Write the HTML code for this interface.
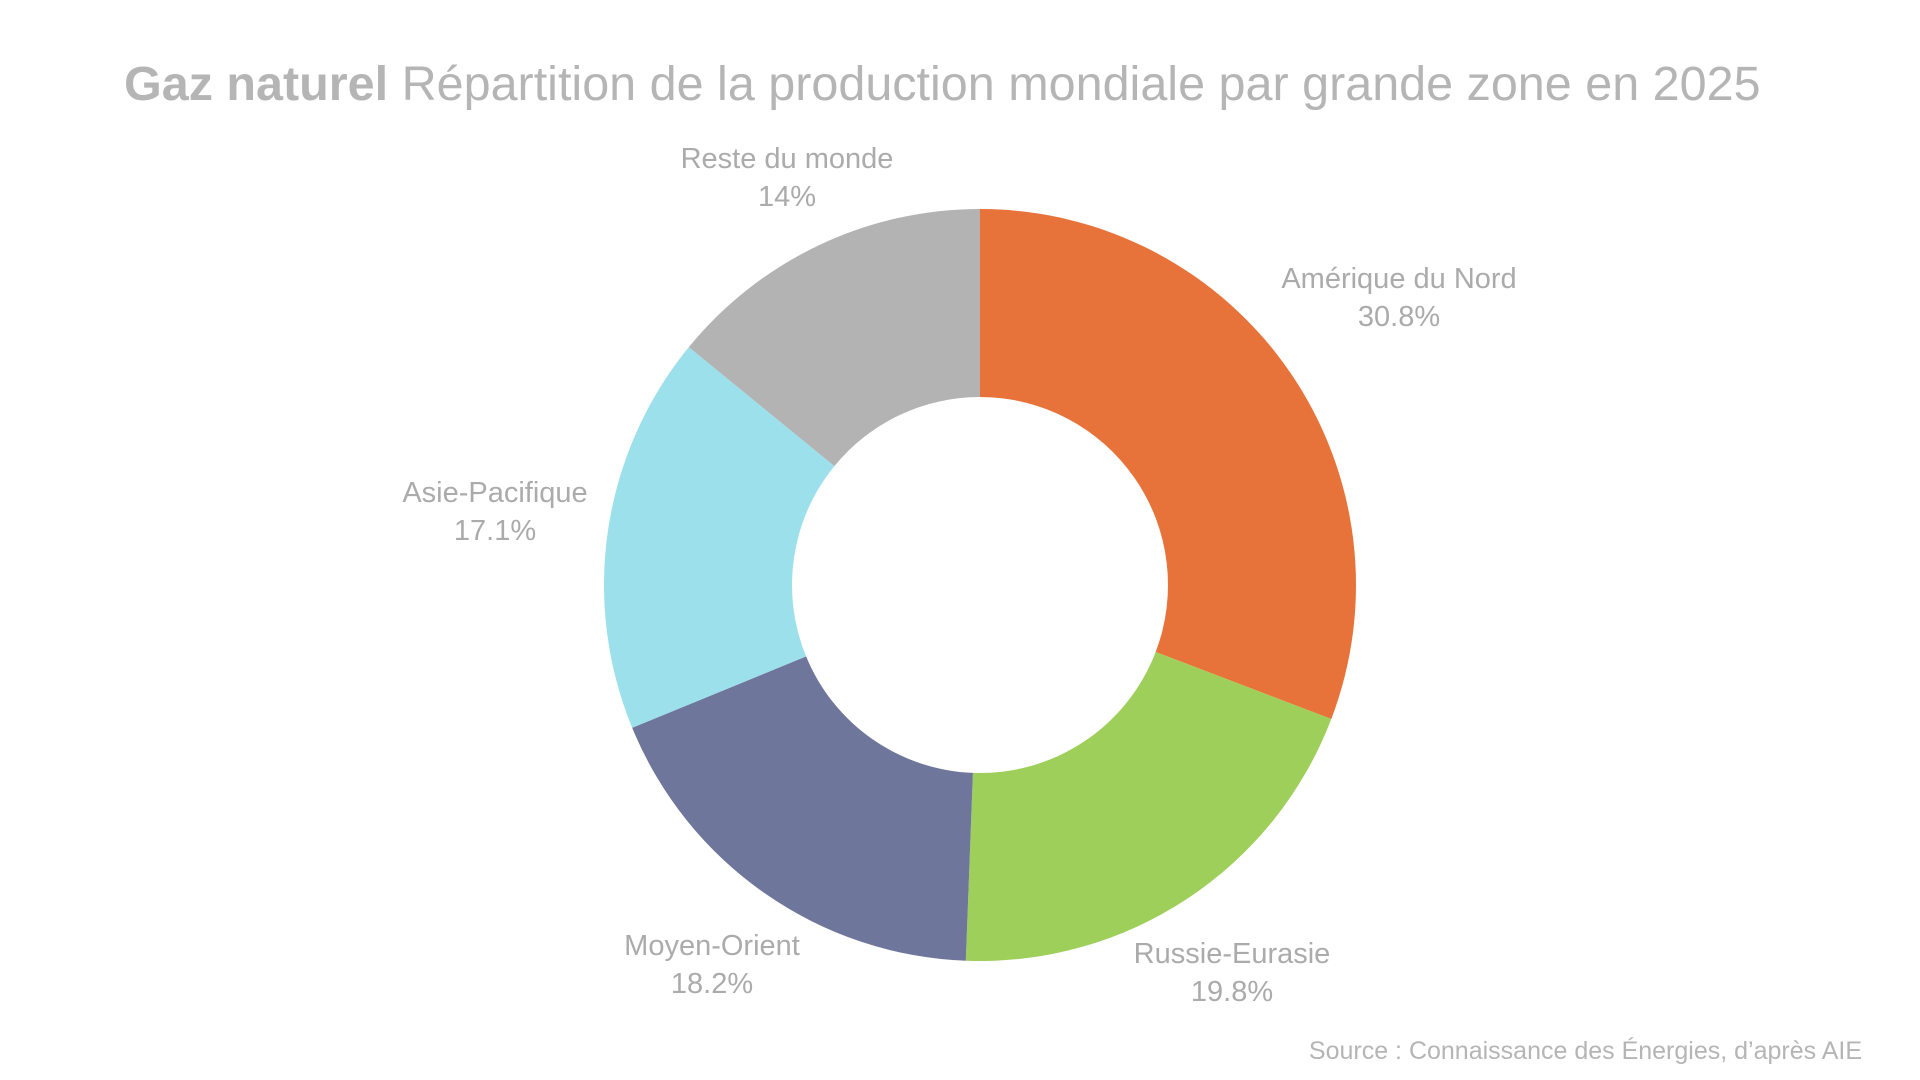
<!DOCTYPE html>
<html><head><meta charset="utf-8"><style>
html,body{margin:0;padding:0;background:#fff;}
body{width:1920px;height:1080px;position:relative;overflow:hidden;font-family:"Liberation Sans",sans-serif;color:#ababab;}
.t{position:absolute;left:124px;top:56px;font-size:48.5px;color:#b5b5b5;white-space:nowrap;}
.l{position:absolute;text-align:center;font-size:29px;line-height:38px;color:#ababab;transform:translateX(-50%);white-space:nowrap;}
.s{position:absolute;right:58px;top:1037px;font-size:25px;color:#b5b5b5;white-space:nowrap;}
</style></head><body>
<div class="t"><b>Gaz naturel</b> Répartition de la production mondiale par grande zone en 2025</div>
<svg id="c" width="1920" height="1080" style="position:absolute;left:0;top:0"></svg>
<div class="l" style="left:787px;top:140px">Reste du monde<br>14%</div>
<div class="l" style="left:1399px;top:260px">Amérique du Nord<br>30.8%</div>
<div class="l" style="left:495px;top:474px">Asie-Pacifique<br>17.1%</div>
<div class="l" style="left:712px;top:927px">Moyen-Orient<br>18.2%</div>
<div class="l" style="left:1232px;top:935px">Russie-Eurasie<br>19.8%</div>
<div class="s">Source : Connaissance des Énergies, d’après AIE</div>
<script>
var d=[[30.8,"#E8733A"],[19.8,"#9FCF5B"],[18.2,"#6E769B"],[17.1,"#9CE0EC"],[14.1,"#B3B3B3"]];
var cx=980,cy=585,R=376,r=188,a=0,h="";
function p(rad,ang){return [cx+rad*Math.sin(ang),cy-rad*Math.cos(ang)];}
d.forEach(function(s){var b=a+s[0]/100*2*Math.PI,l=(b-a)>Math.PI?1:0;
var p1=p(R,a),p2=p(R,b),p3=p(r,b),p4=p(r,a);
h+='<path fill="'+s[1]+'" d="M'+p1+' A'+R+','+R+' 0 '+l+' 1 '+p2+' L'+p3+' A'+r+','+r+' 0 '+l+' 0 '+p4+'Z"/>';a=b;});
document.getElementById("c").innerHTML=h;
</script>
</body></html>
